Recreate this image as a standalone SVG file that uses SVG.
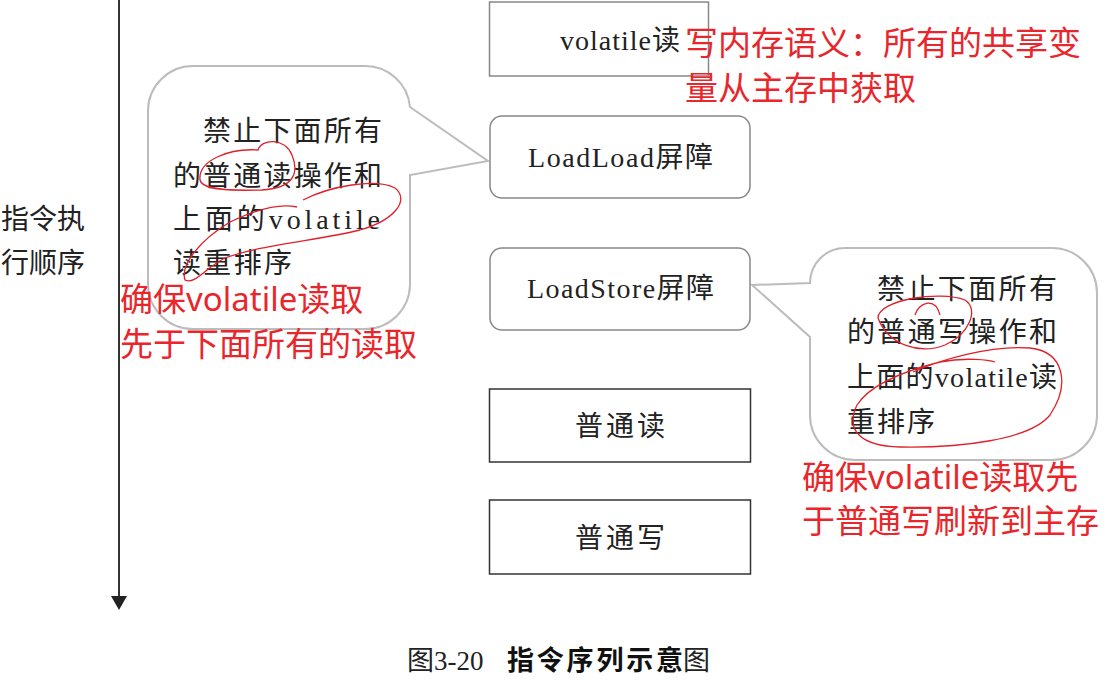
<svg xmlns="http://www.w3.org/2000/svg" width="1113" height="685" viewBox="0 0 1113 685">
<style>
.serif{font-family:"Liberation Serif","Noto Sans CJK SC",serif;font-size:28px;fill:#222}
.red{font-family:"Noto Sans","Noto Sans CJK SC",sans-serif;font-size:33px;fill:#e8262b}
.box{fill:#fff;stroke:#888;stroke-width:1.5}
.dark{fill:#fff;stroke:#333;stroke-width:1.5}
.callout{fill:#fff;stroke:#bcbcbc;stroke-width:2}
.scribble{fill:none;stroke:#e0202a;stroke-width:1.3}
.cap{font-family:"Liberation Serif","Noto Sans CJK SC",serif;font-size:27px;fill:#222}
.capb{font-family:"Noto Sans CJK SC",sans-serif;font-size:27px;font-weight:bold;fill:#111}
</style>
<rect width="1113" height="685" fill="#fff"/>
<g id="axis">
<line x1="119" y1="0" x2="119" y2="598" stroke="#333" stroke-width="2"/>
<polygon points="111,596 127,596 119,610" fill="#222"/>
<text class="serif" x="1" y="229" textLength="84">指令执</text>
<text class="serif" x="1" y="273" textLength="84">行顺序</text>
</g>
<g id="connectors"></g>
<g id="callout-left">
<path class="callout" d="M193,66 H365 A45 45 0 0 1 410,107 L488,161 L410,175 V285 A45 45 0 0 1 365,329 H193 A45 45 0 0 1 148,285 V111 A45 45 0 0 1 193,66 Z"/>
<text class="serif" x="203" y="141" textLength="179">禁止下面所有</text>
<text class="serif" x="173" y="186" textLength="209">的普通读操作和</text>
<text class="serif" x="173" y="229" textLength="207">上面的volatile</text>
<text class="serif" x="173" y="273" textLength="119">读重排序</text>
</g>
<g id="callout-right">
<path class="callout" d="M810,283 A35 35 0 0 1 845,248 H1052 A45 45 0 0 1 1097,293 V415 A45 45 0 0 1 1052,460 H855 A45 45 0 0 1 810,415 V337 L752,285 Z"/>
<text class="serif" x="877" y="299" textLength="180">禁止下面所有</text>
<text class="serif" x="847" y="342" textLength="210">的普通写操作和</text>
<text class="serif" x="847" y="387" textLength="210">上面的volatile读</text>
<text class="serif" x="847" y="432" textLength="88">重排序</text>
</g>
<g id="node-volatile-read">
<rect class="box" x="489.5" y="2" width="219" height="74"/>
<text class="serif" x="560" y="50" textLength="120">volatile读</text>
</g>
<g id="node-loadload">
<rect class="box" x="490" y="116" width="260" height="82" rx="12"/>
<text class="serif" x="528" y="167" textLength="185">LoadLoad屏障</text>
</g>
<g id="node-loadstore">
<rect class="box" x="490" y="248" width="260" height="82" rx="12"/>
<text class="serif" x="527" y="298" textLength="187">LoadStore屏障</text>
</g>
<g id="node-normal-read">
<rect class="dark" x="489.5" y="389" width="261" height="73"/>
<text class="serif" x="575" y="436" textLength="90">普通读</text>
</g>
<g id="node-normal-write">
<rect class="dark" x="489.5" y="500" width="261" height="74"/>
<text class="serif" x="575" y="548" textLength="90">普通写</text>
</g>
<g id="annotations">
<path class="scribble" d="M200,180 C198,160 230,148 258,150 C262,138 285,138 292,155 C300,175 292,188 262,190 C230,191 202,190 200,180"/>
<path class="scribble" d="M303,200 C330,186 375,178 395,188 C410,200 395,220 360,230 C320,240 260,245 225,258 C205,268 195,285 185,280 C180,265 200,240 230,222 C255,210 280,203 297,207"/>
<path class="scribble" d="M878,318 C878,300 940,290 965,300 C980,310 968,335 945,345 C920,355 888,345 878,318"/>
<path class="scribble" d="M915,315 C918,303 935,296 940,315"/>
<path class="scribble" d="M913,372 C940,360 990,345 1030,348 C1065,352 1070,385 1050,415 C1030,440 960,448 900,447 C860,446 845,430 857,405 C870,385 900,372 940,362 C965,357 990,360 995,362"/>
<text class="red" x="685" y="55">写内存语义：所有的共享变</text>
<text class="red" x="685" y="100">量从主存中获取</text>
<text class="red" x="120" y="311">确保volatile读取</text>
<text class="red" x="120" y="356">先于下面所有的读取</text>
<text class="red" x="802" y="489">确保volatile读取先</text>
<text class="red" x="802" y="533">于普通写刷新到主存</text>
</g>
<g id="caption">
<text class="cap" x="407" y="670">图3-20</text>
<text class="capb" x="507" y="670" textLength="176">指令序列示意</text>
<text class="cap" x="683" y="670">图</text>
</g>
</svg>
